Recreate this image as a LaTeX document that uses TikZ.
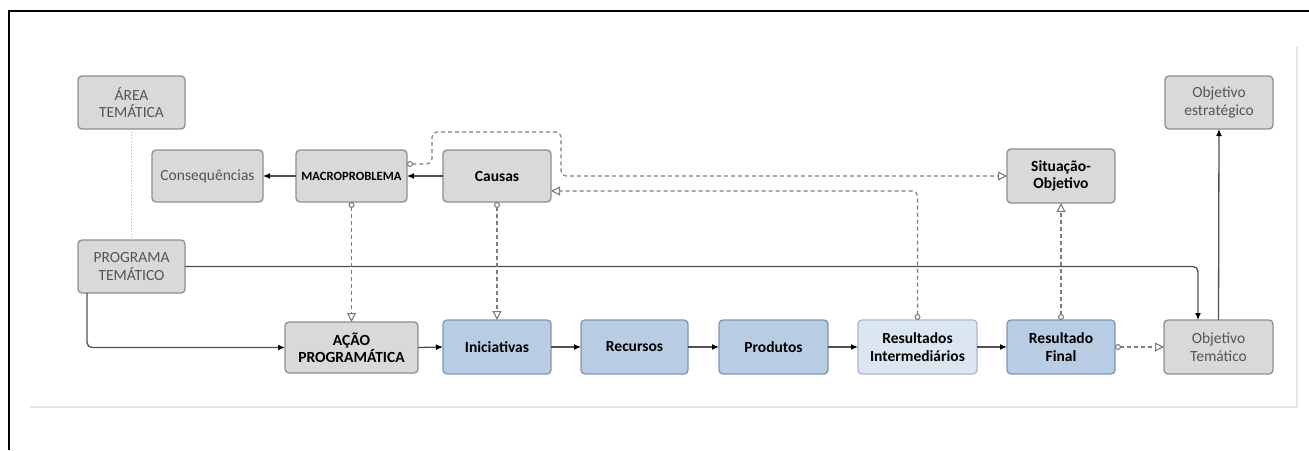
\documentclass[tikz,border=0pt]{standalone}
\usepackage{fontspec}
\setmainfont{Carlito}
\usetikzlibrary{arrows.meta}

\definecolor{boxgrey}{HTML}{D9D9D9}
\definecolor{boxedge}{HTML}{8E8E8E}
\definecolor{bluefill}{HTML}{B8CCE4}
\definecolor{blueedge}{HTML}{7F95B2}
\definecolor{palefill}{HTML}{DCE6F2}
\definecolor{paleedge}{HTML}{A8B8CE}
\definecolor{greytext}{HTML}{555555}
\definecolor{solidline}{HTML}{505050}
\definecolor{dashgrey}{HTML}{7C7C7C}
\definecolor{framegrey}{HTML}{E4E4E4}

\tikzset{
  basebox/.style={rectangle, rounded corners=4pt, line width=1.3pt, inner sep=0pt,
    outer sep=0pt, align=center},
  greybox/.style={basebox, draw=boxedge, fill=boxgrey, text=greytext,
    font=\fontsize{15.5}{17.5}\selectfont},
  greybold/.style={basebox, draw=boxedge, fill=boxgrey, text=black,
    font=\fontsize{15.5}{17.5}\selectfont\bfseries},
  bluebox/.style={basebox, draw=blueedge, fill=bluefill, text=black,
    font=\fontsize{15.5}{17.5}\selectfont\bfseries},
  palebox/.style={basebox, draw=paleedge, fill=palefill, text=black,
    font=\fontsize{15.5}{17.5}\selectfont\bfseries},
  flow/.style={draw=solidline, line width=1.3pt, rounded corners=5pt,
    -{Latex[length=7pt,width=6pt,color=black]}},
  link/.style={draw=dashgrey, line width=1.1pt, dash pattern=on 4pt off 3pt,
    rounded corners=5pt,
    {Circle[open,length=6pt,width=6pt,fill=white]}-{Triangle[open,length=9pt,width=9pt,fill=white]}},
}

\begin{document}
\begin{tikzpicture}[x=1pt,y=-1pt]
\useasboundingbox (0,0) rectangle (1309,450);

% page frame
\draw[framegrey, line width=1.3pt] (30,407) -- (1297,407) -- (1297,47);
\draw[black, line width=2.2pt] (9,450) -- (9,11) -- (1309,11);

% upper row
\node[greybox, minimum width=107pt, minimum height=53pt] (area) at (131.5,102.5) {ÁREA\\TEMÁTICA};
\node[greybox, minimum width=111pt, minimum height=52pt] (cons) at (207.5,176) {Consequências};
\node[greybold, minimum width=111pt, minimum height=52pt,
      font=\fontsize{12.6}{14}\selectfont\bfseries] (macro) at (351.5,176) {MACROPROBLEMA};
\node[greybold, minimum width=108pt, minimum height=52pt] (causas) at (497,176) {Causas};
\node[greybold, minimum width=108pt, minimum height=54pt] (sitobj) at (1061,176) {Situação-\\Objetivo};
\node[greybox, minimum width=108pt, minimum height=53pt] (objest) at (1219,102.5) {Objetivo\\estratégico};

% programme
\node[greybox, minimum width=107pt, minimum height=53pt] (prog) at (131.5,266.5) {PROGRAMA\\TEMÁTICO};

% lower row
\node[greybold, minimum width=133pt, minimum height=51pt] (acao) at (351.5,347.5) {AÇÃO\\PROGRAMÁTICA};
\node[bluebox, minimum width=108pt, minimum height=54pt] (inic) at (497,347) {Iniciativas};
\node[bluebox, minimum width=107pt, minimum height=54pt] (rec) at (634.5,347) {Recursos};
\node[bluebox, minimum width=109pt, minimum height=54pt] (prod) at (773.5,347) {Produtos};
\node[palebox, minimum width=119pt, minimum height=54pt] (resint) at (917.5,347) {Resultados\\Intermediários};
\node[bluebox, minimum width=108pt, minimum height=54pt] (resfin) at (1061,347) {Resultado\\Final};
\node[greybox, minimum width=109pt, minimum height=54pt] (objtem) at (1218.5,347) {Objetivo\\Temático};

% dotted tie between area and programme
\draw[gray!60, line width=1pt, dotted] (area.south) -- (prog.north);

% solid flow
\draw[flow] (causas.west) -- (macro.east);
\draw[flow] (macro.west) -- (cons.east);
\draw[flow] ([xshift=-44.5pt]prog.south) |- (acao.west);
\draw[flow] (prog.east) -| ([xshift=-20.5pt]objtem.north);
\draw[flow] (acao.east) -- (inic.west);
\draw[flow] (inic.east) -- (rec.west);
\draw[flow] (rec.east) -- (prod.west);
\draw[flow] (prod.east) -- (resint.west);
\draw[flow] (resint.east) -- (resfin.west);
\draw[flow] (objtem.north) -- (objest.south);

% dashed relations
\draw[link] ([yshift=12pt]macro.east) -| (432,132) -| (561,176) -- (sitobj.west);
\draw[link] (resint.north) |- ([yshift=-15pt]causas.east);
\draw[link] (causas.south) -- (inic.north);
\draw[link] (macro.south) -- (acao.north);
\draw[link] (resfin.north) -- (sitobj.south);
\draw[link] (resfin.east) -- (objtem.west);
\end{tikzpicture}
\end{document}
